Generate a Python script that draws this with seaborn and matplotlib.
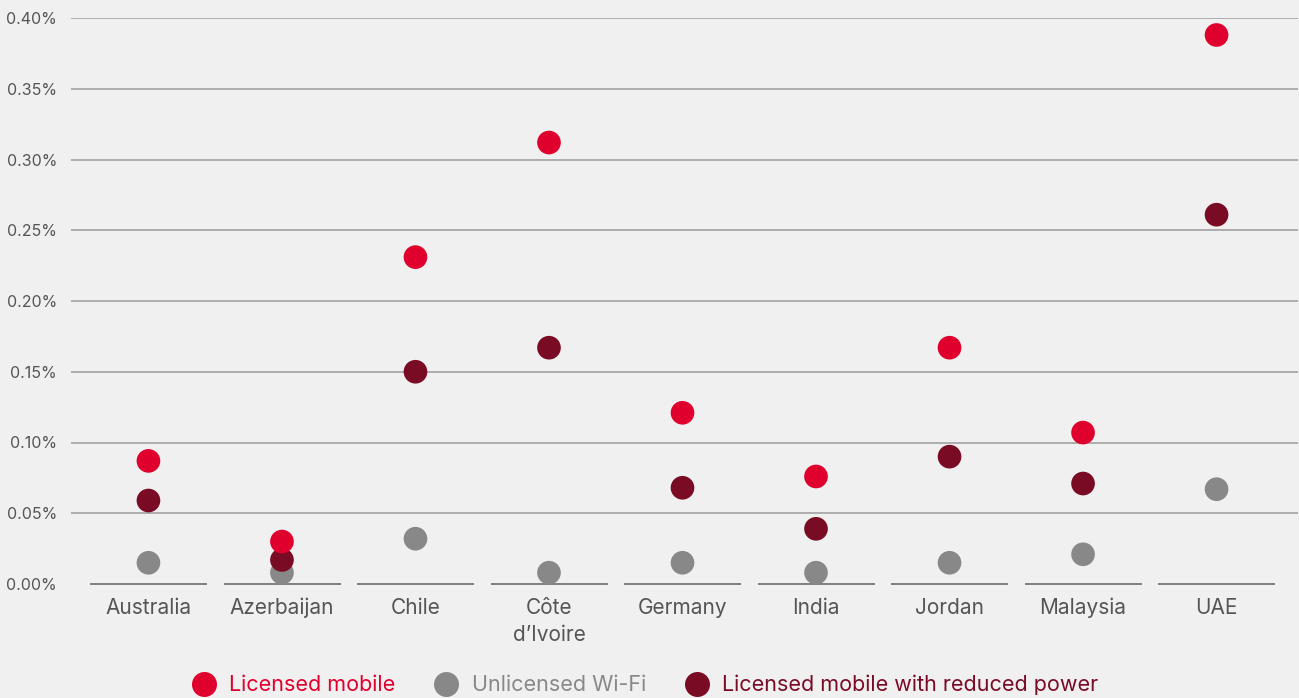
import matplotlib
matplotlib.use("Agg")
import matplotlib.pyplot as plt
import seaborn as sns
import pandas as pd
import numpy as np

countries = ["Australia", "Azerbaijan", "Chile", "Côte\nd\u2019Ivoire", "Germany",
             "India", "Jordan", "Malaysia", "UAE"]
licensed_mobile = [0.087, 0.030, 0.231, 0.312, 0.121, 0.076, 0.167, 0.107, 0.388]
unlicensed_wifi = [0.015, 0.008, 0.032, 0.008, 0.015, 0.008, 0.015, 0.021, 0.067]
licensed_reduced = [0.059, 0.017, 0.150, 0.167, 0.068, 0.039, 0.090, 0.071, 0.261]
series_names = ["Licensed mobile", "Unlicensed Wi-Fi", "Licensed mobile with reduced power"]
series_colors = ["#E0002D", "#888888", "#7A0B24"]
y_ticks = [0.05, 0.10, 0.15, 0.20, 0.25, 0.30, 0.35, 0.40]

rows = []
for name, vals in zip(series_names, [licensed_mobile, unlicensed_wifi, licensed_reduced]):
    for c, v in zip(countries, vals):
        rows.append({"country": c, "value": v, "series": name})
df = pd.DataFrame(rows)
# draw Wi-Fi first, then reduced power, then licensed mobile on top
draw_order = ["Unlicensed Wi-Fi", "Licensed mobile with reduced power", "Licensed mobile"]
df["order"] = df["series"].map({s: i for i, s in enumerate(draw_order)})
df = df.sort_values("order", kind="stable")

sns.set_theme(style="white")
plt.rcParams["font.family"] = ["Inter", "DejaVu Sans"]

bg = "#F0F0F0"
fig = plt.figure(figsize=(12.99, 6.98), dpi=100, facecolor=bg)
ax = fig.add_axes([71 / 1299, (698 - 584) / 698, (1298 - 71) / 1299, 566 / 698])
ax.set_facecolor(bg)

palette = dict(zip(series_names, series_colors))
sns.scatterplot(data=df, x="country", y="value", hue="series", palette=palette,
                hue_order=series_names, s=290, linewidth=0, alpha=1,
                ax=ax, clip_on=False, zorder=3, legend=True)
ax.set_xticks(range(len(countries)))
ax.set_xticklabels(countries, linespacing=1.45)

ax.set_xlim(-0.58, 8.61)
ax.set_ylim(0, 0.40)

# horizontal gridlines
for t in y_ticks:
    ax.axhline(t, color="#9A9A9A", lw=1.1, zorder=1)
# baseline segments under each category
for i in range(len(countries)):
    ax.plot([i - 0.435, i + 0.44], [0, 0], color="#777777", lw=1.3, zorder=2,
            solid_capstyle="butt", clip_on=False)

ax.set_yticks([0.0] + y_ticks)
ax.set_yticklabels([f"{t:.2f}%" for t in [0.0] + y_ticks], fontsize=11.5, color="#555555")
ax.tick_params(axis="y", length=0, pad=10)
ax.tick_params(axis="x", length=0, pad=10, labelsize=15, labelcolor="#555555")
ax.set_xlabel("")
ax.set_ylabel("")
for s in ax.spines.values():
    s.set_visible(False)

handles, labels = ax.get_legend_handles_labels()
ax.get_legend().remove()
for h in handles:
    h.set_markersize(18)
    h.set_markeredgewidth(0)
leg = fig.legend(handles, labels, loc="center", bbox_to_anchor=(645 / 1299, 1 - 685 / 698),
                 ncol=3, frameon=False, fontsize=15.5, handletextpad=0.6,
                 columnspacing=1.8, handlelength=1.15, borderaxespad=0)
for txt, col in zip(leg.get_texts(), series_colors):
    txt.set_color(col)

fig.savefig("out.png", dpi=100, facecolor=bg)
